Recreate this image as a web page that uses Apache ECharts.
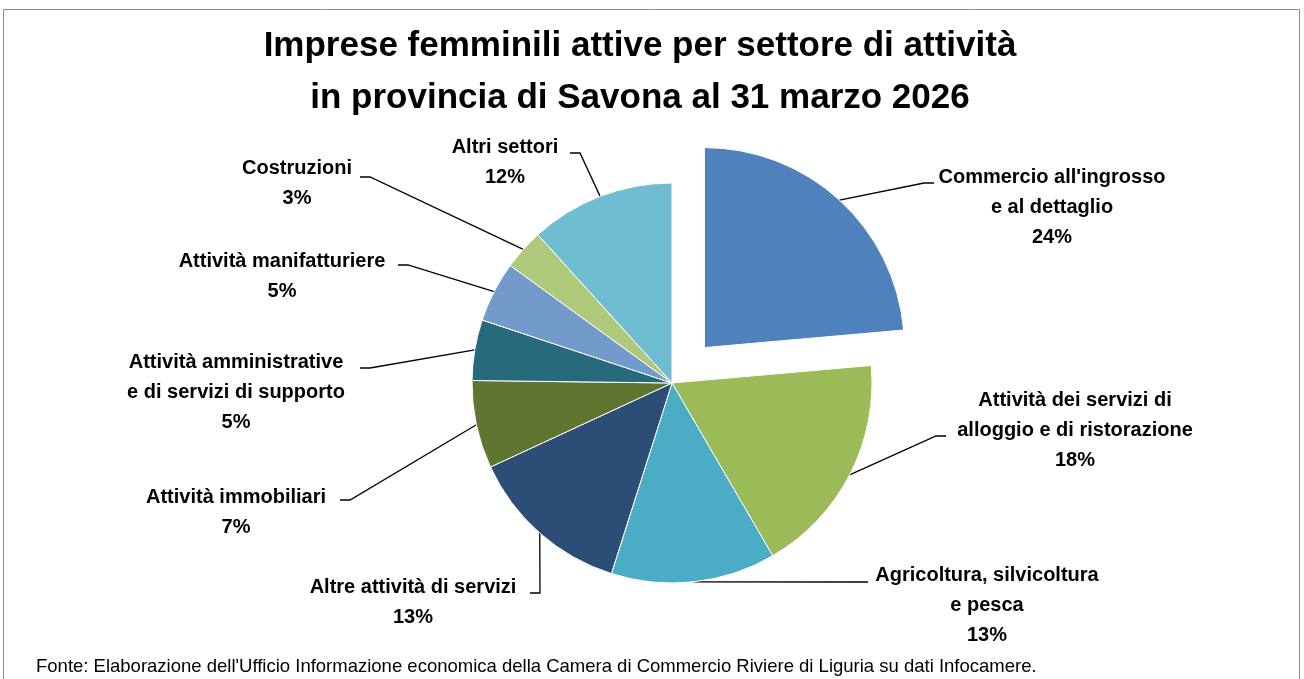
<!DOCTYPE html>
<html>
<head>
<meta charset="utf-8">
<script src="https://cdn.jsdelivr.net/npm/echarts@6/dist/echarts.min.js"></script>
<style>
  html, body { margin: 0; padding: 0; background: #fff; }
  #chartPie { width: 1304px; height: 679px; }
</style>
</head>
<body>
<div id="chartPie"></div>
<script>
// settori, in senso orario dalle ore 12
var settori = [
  'Commercio all\'ingrosso\ne al dettaglio',
  'Attività dei servizi di\nalloggio e di ristorazione',
  'Agricoltura, silvicoltura\ne pesca',
  'Altre attività di servizi',
  'Attività immobiliari',
  'Attività amministrative\ne di servizi di supporto',
  'Attività manifatturiere',
  'Costruzioni',
  'Altri settori'
];
// quote (%)
var quote = [23.6, 18.0, 13.3, 13.2, 7.1, 4.9, 4.9, 3.3, 11.7];
var colori = ['#4F81BD', '#9BBB59', '#4BACC6', '#2C4D75', '#5F7530', '#276A7C', '#729ACA', '#AFC97A', '#6FBDD1'];

// posizione etichette: centro testo x, y, fine linea x, y, lato del gomito (+1 / -1)
var posEtichette = [
  [1052, 207, 934, 183, -1],
  [1075, 430, 946, 436, -1],
  [987, 605, 868, 582, -1],
  [413, 602, 530, 593, 1],
  [236, 512, 340, 500, 1],
  [236, 392, 360, 368, 1],
  [282, 276, 398, 265, 1],
  [297, 183, 360, 177, 1],
  [505, 162, 570, 153, 1]
];

var centro = [672, 383];
var raggio = 200;
var stacco = 48;   // spostamento della fetta "Commercio"

// centro della fetta staccata, lungo la sua bisettrice
var totale = quote.reduce(function (a, b) { return a + b; }, 0);
var angoloMedio = quote[0] / 2 / totale * 2 * Math.PI;
var centroStaccato = [
  centro[0] + stacco * Math.sin(angoloMedio),
  centro[1] - stacco * Math.cos(angoloMedio)
];

var chartPie = echarts.init(document.getElementById('chartPie'));

var fontEtichette = {
  show: true,
  position: 'outside',
  formatter: '{b}\n{d}%',
  fontFamily: 'Liberation Sans, sans-serif',
  fontWeight: 'bold',
  fontSize: 20,
  lineHeight: 30,
  color: '#000',
  align: 'center'
};

function disponiEtichetta(p) {
  var L = posEtichette[p.dataIndex];
  var start = p.labelLinePoints ? p.labelLinePoints[0] : [L[2], L[3]];
  return {
    x: L[0],
    y: L[1],
    align: 'center',
    verticalAlign: 'middle',
    labelLinePoints: [start, [L[2] + L[4] * 10, L[3]], [L[2], L[3]]]
  };
}

var nascosto = {
  itemStyle: { color: 'rgba(0,0,0,0)', borderWidth: 0 },
  label: { show: false },
  labelLine: { show: false }
};

// serie principale: tutte le fette tranne quella staccata
var datiBase = settori.map(function (nome, i) {
  var d = { name: nome, value: quote[i], itemStyle: { color: colori[i] } };
  if (i === 0) { Object.assign(d, nascosto); }
  return d;
});
// serie della fetta staccata
var datiStaccata = settori.map(function (nome, i) {
  var d = { name: nome, value: quote[i], itemStyle: { color: colori[i] } };
  if (i !== 0) { Object.assign(d, nascosto); }
  return d;
});

var serieComune = {
  type: 'pie',
  radius: raggio,
  startAngle: 90,
  clockwise: true,
  percentPrecision: 0,
  silent: true,
  itemStyle: { borderColor: '#fff', borderWidth: 1 },
  label: fontEtichette,
  labelLine: { show: true, lineStyle: { color: '#000', width: 1.3 } },
  labelLayout: disponiEtichetta,
  emphasis: { disabled: true }
};

var option = {
  animation: false,
  graphic: [
    {
      type: 'rect',
      shape: { x: 3.5, y: 9.5, width: 1296, height: 690 },
      style: { fill: 'none', stroke: '#8c8c8c', lineWidth: 1 },
      silent: true
    },
    {
      // titolo
      type: 'text',
      x: 640,
      y: 20,
      silent: true,
      style: {
        text: 'Imprese femminili attive per settore di attività\nin provincia di Savona al 31 marzo 2026',
        align: 'center',
        verticalAlign: 'top',
        font: 'bold 35px "Liberation Sans", sans-serif',
        lineHeight: 52,
        fill: '#000'
      }
    },
    {
      // fonte
      type: 'text',
      x: 36,
      y: 667,
      silent: true,
      style: {
        text: 'Fonte: Elaborazione dell\'Ufficio Informazione economica della Camera di Commercio Riviere di Liguria su dati Infocamere.',
        align: 'left',
        verticalAlign: 'middle',
        font: '18.5px "Liberation Sans", sans-serif',
        fill: '#000'
      }
    }
  ],
  series: [
    Object.assign({}, serieComune, { center: centro, data: datiBase }),
    Object.assign({}, serieComune, { center: centroStaccato, data: datiStaccata })
  ]
};

chartPie.setOption(option);
</script>
</body>
</html>
